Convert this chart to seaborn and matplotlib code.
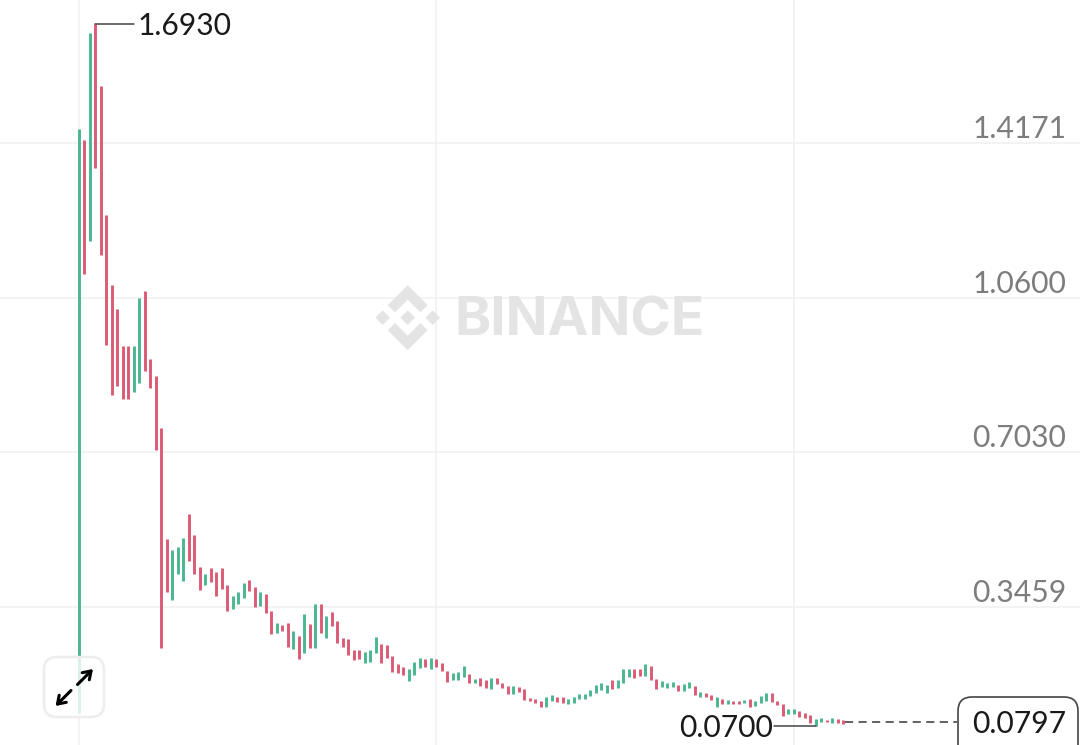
import pandas as pd
import seaborn as sns
import matplotlib.pyplot as plt
from matplotlib.patches import FancyBboxPatch, Polygon

# velas (open, close)
opens = [
    0.1010, 1.4240, 1.1908, 1.6930, 1.5487, 1.2509, 1.0892, 1.0338, 0.9484, 0.9484,
    0.8422, 0.8629, 1.0754, 0.9184, 0.8791, 0.7591, 0.5028, 0.3619, 0.4219, 0.4058,
    0.5605, 0.5120, 0.4381, 0.3965, 0.4358, 0.4265, 0.4358, 0.3965, 0.3411, 0.3526,
    0.3665, 0.4081, 0.3919, 0.3480, 0.3757, 0.3365, 0.2857, 0.3042, 0.3088, 0.2488,
    0.2788, 0.2395, 0.3065, 0.2511, 0.3526, 0.2742, 0.3342, 0.3134, 0.2742, 0.2719,
    0.2465, 0.2465, 0.2165, 0.2188, 0.2395, 0.2603, 0.2580, 0.2326, 0.2142, 0.2072,
    0.1749, 0.1888, 0.2049, 0.2257, 0.2026, 0.2257, 0.2165, 0.1980, 0.1772, 0.1772,
    0.1841, 0.1911, 0.1703, 0.1818, 0.1772, 0.1564, 0.1818, 0.1703, 0.1634, 0.1449,
    0.1610, 0.1564, 0.1356, 0.1333, 0.1287, 0.1149, 0.1287, 0.1380, 0.1380, 0.1218,
    0.1241, 0.1333, 0.1333, 0.1403, 0.1472, 0.1541, 0.1472, 0.1772, 0.1587, 0.1703,
    0.1841, 0.2026, 0.2026, 0.1865, 0.2095, 0.1795, 0.1610, 0.1587, 0.1610, 0.1657,
    0.1518, 0.1587, 0.1634, 0.1380, 0.1472, 0.1426, 0.1149, 0.1333, 0.1218, 0.1287,
    0.1287, 0.1241, 0.1333, 0.1172, 0.1241, 0.1287, 0.1472, 0.1287, 0.1218, 0.0987,
    0.0987, 0.1056, 0.1010, 0.0964, 0.0700, 0.0802, 0.0848, 0.0779, 0.0871, 0.0848,
]
closes = [
    1.4494, 1.1146, 1.6711, 1.3594, 1.1585, 0.9507, 0.8352, 0.8560, 0.8260, 0.8260,
    0.9484, 1.0592, 0.8907, 0.8514, 0.7082, 0.2511, 0.3804, 0.4774, 0.4843, 0.5051,
    0.4519, 0.4219, 0.3850, 0.4219, 0.4035, 0.3712, 0.3873, 0.3365, 0.3712, 0.3804,
    0.4012, 0.3827, 0.3457, 0.3804, 0.3319, 0.2834, 0.3088, 0.2903, 0.2534, 0.2903,
    0.2257, 0.3296, 0.2511, 0.3526, 0.2857, 0.3250, 0.3019, 0.2626, 0.2534, 0.2349,
    0.2234, 0.2257, 0.2418, 0.2465, 0.2765, 0.2165, 0.2280, 0.1957, 0.1934, 0.1888,
    0.2026, 0.2188, 0.2280, 0.2072, 0.2280, 0.2072, 0.1980, 0.1726, 0.1934, 0.1957,
    0.2095, 0.1703, 0.1795, 0.1634, 0.1587, 0.1818, 0.1680, 0.1587, 0.1449, 0.1634,
    0.1495, 0.1310, 0.1287, 0.1241, 0.1149, 0.1380, 0.1426, 0.1264, 0.1241, 0.1333,
    0.1380, 0.1449, 0.1449, 0.1541, 0.1657, 0.1703, 0.1657, 0.1564, 0.1772, 0.2026,
    0.2026, 0.1818, 0.1865, 0.2142, 0.1772, 0.1564, 0.1749, 0.1703, 0.1726, 0.1518,
    0.1680, 0.1726, 0.1426, 0.1495, 0.1380, 0.1310, 0.1380, 0.1218, 0.1310, 0.1218,
    0.1218, 0.1310, 0.1149, 0.1287, 0.1403, 0.1472, 0.1264, 0.1195, 0.0941, 0.1102,
    0.1102, 0.0918, 0.0895, 0.0779, 0.0871, 0.0895, 0.0802, 0.0895, 0.0779, 0.0756,
]
price_ticks = [1.4171, 1.0600, 0.7030, 0.3459]
tick_labels = ['1.4171', '1.0600', '0.7030', '0.3459']
time_ticks = [0, 65, 130]
high_price = 1.6930
high_idx = 3
low_price = 0.0700
low_idx = 134
last_price = 0.0797

GREEN = '#4ab68f'
RED = '#dc5b74'
GRID = '#f1f1f1'

sns.set_theme(style='white')
plt.rcParams['font.family'] = ['Lato', 'DejaVu Sans']

# tabela longa: cada vela vira uma linha vertical
rows = []
for i, (o, c) in enumerate(zip(opens, closes)):
    lado = 'up' if c >= o else 'down'
    rows.append({'candle': i, 'price': o, 'side': lado})
    rows.append({'candle': i, 'price': c, 'side': lado})
df = pd.DataFrame(rows)

fig = plt.figure(figsize=(10.8, 7.45), dpi=100)
ax = fig.add_axes([0, 0, 1, 1])

sns.lineplot(
    data=df, x='candle', y='price', hue='side', units='candle',
    estimator=None, palette={'up': GREEN, 'down': RED}, linewidth=2.1,
    solid_capstyle='butt', legend=False, ax=ax, zorder=3
)

ax.set_xlim(-14.36, 182.0)
ax.set_ylim(0.0271, 1.7473)
ax.set_xlabel('')
ax.set_ylabel('')
for s in ax.spines.values():
    s.set_visible(False)

ax.set_xticks(time_ticks)
ax.set_xticklabels([])
ax.set_yticks(price_ticks)
ax.set_yticklabels(tick_labels)
ax.grid(True, color=GRID, linewidth=1.2)
ax.set_axisbelow(True)
ax.yaxis.tick_right()
ax.tick_params(axis='y', length=0, pad=-10, labelsize=21.6, labelcolor='#7d7d7d')
ax.tick_params(axis='x', length=0)
for lab in ax.get_yticklabels():
    lab.set_ha('right')
    lab.set_va('bottom')

# maxima, minima e ultimo preco
ax.plot([high_idx, 10], [high_price, high_price], color='#444444', lw=1.1, zorder=4)
ax.text(10.7, high_price - 0.006, '1.6930', fontsize=21.6, color='#1a1a1a', va='center', ha='left')
ax.plot([126.4, low_idx], [low_price, low_price], color='#444444', lw=1.1, zorder=4)
ax.text(126.2, low_price - 0.003, '0.0700', fontsize=21.6, color='#1a1a1a', va='center', ha='right')
ax.plot([139.3, 159.7], [last_price, last_price], color='#555555', lw=1.3,
        dashes=(4.5, 3), zorder=4)

# camada em pixels para marca d'agua e botoes
over = fig.add_axes([0, 0, 1, 1], zorder=5)
over.set_xlim(0, 1080)
over.set_ylim(745, 0)
over.axis('off')
over.patch.set_alpha(0)

logo = '#e4e4e4'
cx, cy = 407.7, 317.7
for dx in [-25, 0, 25]:
    over.add_patch(Polygon([(cx + dx, cy - 7.3), (cx + dx + 7.3, cy), (cx + dx, cy + 7.3),
                            (cx + dx - 7.3, cy)], fc=logo, ec='none'))
for sy in [1, -1]:
    pts = [(0, -32.5), (20, -12.5), (12.7, -5.3), (0, -18), (-12.7, -5.3), (-20, -12.5)]
    over.add_patch(Polygon([(cx + a, cy + sy * b) for a, b in pts], fc=logo, ec='none'))
over.text(579, 322, 'BINANCE', fontsize=39.5, fontweight='bold', family='Inter',
          color=logo, ha='center', va='center')

# caixa do preco atual
over.add_patch(FancyBboxPatch((958, 697), 120, 70, boxstyle='round,pad=0,rounding_size=14',
                              fc='white', ec='#444444', lw=1.2))
over.text(1019.5, 724, '0.0797', fontsize=21.6, color='#1a1a1a', ha='center', va='center')

# botao de expandir
over.add_patch(FancyBboxPatch((44, 657), 60, 60, boxstyle='round,pad=0,rounding_size=13',
                              fc=(1, 1, 1, 0.8), ec='#ededed', lw=1.8))
seta = dict(arrowstyle='->,head_length=0.45,head_width=0.3', color='black', lw=2.2, shrinkA=0, shrinkB=0)
over.annotate('', xy=(93, 669), xytext=(77.5, 684.5), arrowprops=seta)
over.annotate('', xy=(55.5, 706), xytext=(71, 690.5), arrowprops=seta)

fig.savefig('out.png', dpi=100)
